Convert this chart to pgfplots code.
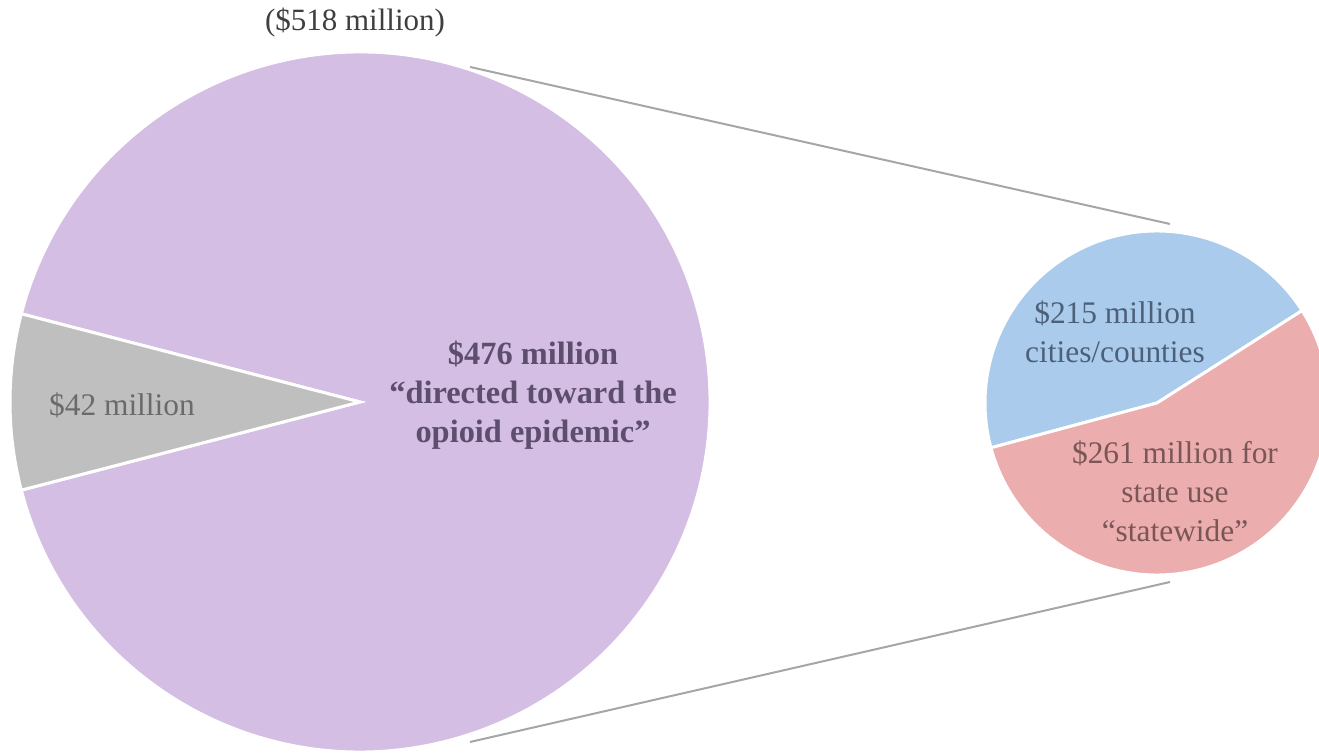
\documentclass[border=0pt]{standalone}
\usepackage{fontspec}
\setmainfont{Liberation Serif}
\usepackage{pgfplots}
\usepackage{pgfplotstable}
\pgfplotsset{compat=1.18}
\definecolor{cPurple}{HTML}{D4BEE3}
\definecolor{cGray}{HTML}{BFBFBF}
\definecolor{cBlue}{HTML}{AACBEB}
\definecolor{cRed}{HTML}{EBADAE}
\definecolor{tTitle}{HTML}{3F3F3F}
\definecolor{tGray}{HTML}{6A6A6A}
\definecolor{tPurple}{HTML}{5C4E6C}
\definecolor{tBlue}{HTML}{4C607A}
\definecolor{tRed}{HTML}{7A5656}
\definecolor{cLine}{HTML}{A6A6A6}
% values in $ million
\pgfplotstableread{
part value
other 42
opioid 476
cities 215
state 261
}\piedata
\pgfplotstablegetelem{0}{value}\of\piedata \let\vOther\pgfplotsretval
\pgfplotstablegetelem{1}{value}\of\piedata \let\vOpioid\pgfplotsretval
\pgfplotstablegetelem{2}{value}\of\piedata \let\vCities\pgfplotsretval
\pgfplotstablegetelem{3}{value}\of\piedata \let\vState\pgfplotsretval
\begin{document}
\begin{tikzpicture}
\pgfmathsetmacro\total{\vOther+\vOpioid}
\pgfmathsetmacro\gA{180-\vOther/\total*180}
\pgfmathsetmacro\gB{180+\vOther/\total*180}
\pgfmathsetmacro\bA{32.5}
\pgfmathsetmacro\bB{\bA+\vCities/(\vCities+\vState)*360}
\begin{axis}[
  x=0.5pt, y=0.5pt,
  xmin=0, xmax=1319, ymin=0, ymax=753,
  hide axis, clip=true,
]
% connector lines
\draw[cLine, line width=1pt] (axis cs:470,686) -- (axis cs:1170,529);
\draw[cLine, line width=1pt] (axis cs:470,11) -- (axis cs:1170,171);
% big pie
\fill[cPurple, draw=white, line width=1.5pt] (axis cs:360,351) -- ++(\gB:175pt) arc[start angle=\gB, end angle=\gA+360, radius=175pt] -- cycle;
\fill[cGray, draw=white, line width=1.5pt] (axis cs:360,351) -- ++(\gA:175pt) arc[start angle=\gA, end angle=\gB, radius=175pt] -- cycle;
% small pie
\fill[cBlue, draw=white, line width=1.5pt] (axis cs:1157,350) -- ++(\bA:86pt) arc[start angle=\bA, end angle=\bB, radius=86pt] -- cycle;
\fill[cRed, draw=white, line width=1.5pt] (axis cs:1157,350) -- ++(\bB:86pt) arc[start angle=\bB, end angle=\bA+360, radius=86pt] -- cycle;
% labels
\node[text=tTitle, font=\fontsize{15.5}{19.5}\selectfont] at (axis cs:355,730) {(\$518 million)};
\node[text=tGray, font=\fontsize{15.7}{19.5}\selectfont] at (axis cs:122,348) {\$42 million};
\node[text=tPurple, align=center, font=\fontsize{16.2}{19.5}\selectfont\bfseries] at (axis cs:533,358) {\$476 million\\“directed toward the\\opioid epidemic”};
\node[text=tBlue, align=center, font=\fontsize{15.7}{19.5}\selectfont] at (axis cs:1115,421) {\$215 million\\cities/counties};
\node[text=tRed, align=center, font=\fontsize{15.7}{19.5}\selectfont] at (axis cs:1175,262) {\$261 million for\\state use\\“statewide”};
\end{axis}
\pgfresetboundingbox
\path[use as bounding box] (0,0) rectangle (659.5pt,376.5pt);
\end{tikzpicture}
\end{document}
